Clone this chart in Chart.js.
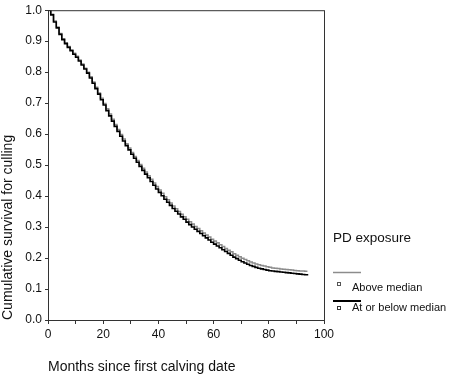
<!DOCTYPE html>
<html>
<head>
<meta charset="utf-8">
<script src="https://cdn.jsdelivr.net/npm/chart.js@4.4.1/dist/chart.umd.min.js"></script>
<style>
  html, body { margin: 0; padding: 0; background: #fff; }
  #wrap { width: 452px; height: 377px; position: relative; }
</style>
</head>
<body>
<div id="wrap"><canvas id="survCanvas"></canvas></div>
<script>
// months 0..94, one step per month
const months = [
  0, 1, 2, 3, 4, 5, 6, 7, 8, 9, 10, 11, 12, 13, 14, 15, 16, 17, 18, 19,
  20, 21, 22, 23, 24, 25, 26, 27, 28, 29, 30, 31, 32, 33, 34, 35, 36, 37, 38, 39,
  40, 41, 42, 43, 44, 45, 46, 47, 48, 49, 50, 51, 52, 53, 54, 55, 56, 57, 58, 59,
  60, 61, 62, 63, 64, 65, 66, 67, 68, 69, 70, 71, 72, 73, 74, 75, 76, 77, 78, 79,
  80, 81, 82, 83, 84, 85, 86, 87, 88, 89, 90, 91, 92, 93, 94
];

const aboveMedian = [
  1.000, 0.987, 0.965, 0.946, 0.925, 0.908, 0.895, 0.883, 0.872, 0.861,
  0.851, 0.839, 0.826, 0.813, 0.800, 0.785, 0.768, 0.751, 0.733, 0.716,
  0.699, 0.682, 0.665, 0.648, 0.631, 0.615, 0.599, 0.584, 0.569, 0.555,
  0.541, 0.528, 0.515, 0.502, 0.490, 0.478, 0.466, 0.454, 0.442, 0.431,
  0.420, 0.409, 0.398, 0.388, 0.378, 0.368, 0.359, 0.350, 0.341, 0.333,
  0.325, 0.317, 0.310, 0.302, 0.295, 0.288, 0.281, 0.274, 0.268, 0.261,
  0.255, 0.249, 0.243, 0.237, 0.231, 0.225, 0.220, 0.214, 0.209, 0.204,
  0.199, 0.195, 0.191, 0.187, 0.184, 0.181, 0.178, 0.176, 0.174, 0.172,
  0.170, 0.168, 0.167, 0.166, 0.165, 0.164, 0.163, 0.162, 0.161, 0.160,
  0.159, 0.158, 0.158, 0.157, 0.157
];

const atOrBelowMedian = [
  1.000, 0.985, 0.962, 0.943, 0.922, 0.905, 0.892, 0.880, 0.869, 0.858,
  0.848, 0.836, 0.823, 0.810, 0.797, 0.781, 0.764, 0.747, 0.729, 0.711,
  0.694, 0.676, 0.659, 0.642, 0.625, 0.609, 0.593, 0.578, 0.563, 0.549,
  0.535, 0.522, 0.509, 0.496, 0.483, 0.471, 0.459, 0.447, 0.435, 0.423,
  0.412, 0.401, 0.390, 0.380, 0.370, 0.360, 0.351, 0.342, 0.333, 0.325,
  0.316, 0.308, 0.300, 0.293, 0.286, 0.279, 0.272, 0.265, 0.258, 0.251,
  0.245, 0.239, 0.233, 0.227, 0.221, 0.215, 0.209, 0.203, 0.198, 0.193,
  0.188, 0.184, 0.180, 0.176, 0.173, 0.170, 0.167, 0.165, 0.163, 0.161,
  0.159, 0.158, 0.157, 0.156, 0.155, 0.154, 0.153, 0.152, 0.151, 0.150,
  0.149, 0.148, 0.147, 0.146, 0.144
];

const seriesNames = ["Above median", "At or below median"];
const legendTitle = "PD exposure";
const xTitle = "Months since first calving date";
const yTitle = "Cumulative survival for culling";

const FONT = "'Liberation Sans', Arial, sans-serif";

const toPoints = (vals) => vals.map((v, i) => ({ x: months[i], y: v }));

// frame around the plot + the legend on the right
const framePlugin = {
  id: "frame",
  afterDraw(chart) {
    const { ctx, chartArea: a } = chart;
    ctx.save();
    ctx.strokeStyle = "#333";
    ctx.lineWidth = 1;
    ctx.strokeRect(a.left + 0.5, a.top + 0.5, a.right - a.left, a.bottom - a.top);

    // legend
    ctx.fillStyle = "#111";
    ctx.textBaseline = "middle";
    ctx.font = "13.5px " + FONT;
    ctx.fillText(legendTitle, 333, 238);

    ctx.font = "11px " + FONT;
    ctx.strokeStyle = "#8c8c8c";
    ctx.lineWidth = 1.5;
    ctx.beginPath(); ctx.moveTo(333, 272.5); ctx.lineTo(361, 272.5); ctx.stroke();
    ctx.strokeStyle = "#555";
    ctx.lineWidth = 1;
    ctx.strokeRect(337.5, 282.5, 3, 3);
    ctx.fillText(seriesNames[0], 352, 288);

    ctx.strokeStyle = "#000";
    ctx.lineWidth = 2;
    ctx.beginPath(); ctx.moveTo(333, 301); ctx.lineTo(361, 301); ctx.stroke();
    ctx.strokeStyle = "#333";
    ctx.lineWidth = 1;
    ctx.strokeRect(337.5, 306.5, 3, 3);
    ctx.fillText(seriesNames[1], 352, 308);
    ctx.restore();
  },
};

const survChart = new Chart(document.getElementById("survCanvas"), {
  type: "line",
  data: {
    datasets: [
      {
        label: seriesNames[0],
        data: toPoints(aboveMedian),
        stepped: "before",
        borderColor: "#8c8c8c",
        borderWidth: 1.5,
        pointRadius: 0,
        fill: false,
        order: 2,
      },
      {
        label: seriesNames[1],
        data: toPoints(atOrBelowMedian),
        stepped: "before",
        borderColor: "#000",
        borderWidth: 1.6,
        pointRadius: 0,
        fill: false,
        order: 1,
      },
    ],
  },
  options: {
    responsive: true,
    maintainAspectRatio: false,
    animation: false,
    layout: { padding: { top: 5, right: 128, left: 0, bottom: 0 } },
    plugins: {
      legend: { display: false },
      tooltip: { enabled: false },
    },
    scales: {
      x: {
        type: "linear",
        min: 0,
        max: 100,
        border: { display: true, color: "#333", width: 1 },
        grid: { drawOnChartArea: false, drawTicks: true, tickLength: 4, color: "#333" },
        ticks: {
          stepSize: 10,
          maxRotation: 0,
          padding: 3,
          color: "#111",
          font: { family: FONT, size: 12 },
          callback: (v) => (v % 20 === 0 ? String(v) : ""),
        },
        title: {
          display: true,
          text: xTitle,
          align: "start",
          color: "#111",
          font: { family: FONT, size: 14 },
          padding: { top: 0, bottom: 1 },
        },
        afterFit: (s) => { s.height = 57; },
      },
      y: {
        min: 0,
        max: 1,
        border: { display: true, color: "#333", width: 1 },
        grid: { drawOnChartArea: false, drawTicks: true, tickLength: 3, color: "#333" },
        ticks: {
          stepSize: 0.1,
          padding: 3,
          color: "#111",
          font: { family: FONT, size: 12 },
          callback: (v) => Number(v).toFixed(1),
        },
        title: {
          display: true,
          text: yTitle,
          align: "start",
          color: "#111",
          font: { family: FONT, size: 14 },
          padding: { top: 0, bottom: 0 },
        },
        afterFit: (s) => { s.width = 48; },
      },
    },
  },
  plugins: [framePlugin],
});
</script>
</body>
</html>
